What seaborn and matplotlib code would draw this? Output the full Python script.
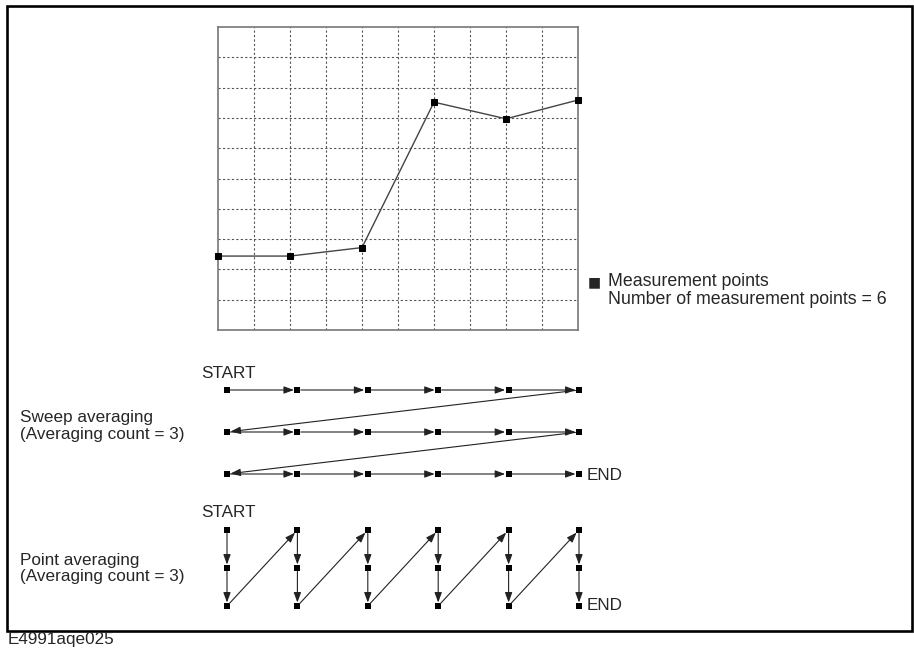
import matplotlib
matplotlib.use("Agg")
import matplotlib.pyplot as plt
from matplotlib.patches import Rectangle
import seaborn as sns
import pandas as pd

sns.set_theme(style="white")
plt.rcParams['font.family'] = ['Liberation Sans', 'DejaVu Sans']

# ---- data ----
point_index = [0, 2, 4, 6, 8, 10]
measured = [2.44, 2.44, 2.72, 7.52, 6.97, 7.59]
n_points = 6
avg_count = 3
figure_code = "E4991aqe025"

W, H = 914, 652
fig = plt.figure(figsize=(W / 100, H / 100), dpi=100)

def px_axes(x0, y0, x1, y1):
    return fig.add_axes([x0 / W, 1 - y1 / H, (x1 - x0) / W, (y1 - y0) / H])

# background axes in pixel coordinates
bg = px_axes(0, 0, W, H)
bg.set_xlim(0, W)
bg.set_ylim(H, 0)
bg.axis('off')
bg.add_patch(Rectangle((7, 6), 905, 625, fill=False, lw=1.9, ec='black'))

fs = 12.3
fl = 12.8
bg.text(594, 282, "■", fontsize=10, ha='center', va='center', family=['DejaVu Sans'])
bg.text(608, 286, "Measurement points", fontsize=fl, va='baseline')
bg.text(608, 304, "Number of measurement points = %d" % n_points, fontsize=fl, va='baseline')
bg.text(201, 378, "START", fontsize=fs, va='baseline')
bg.text(20, 422, "Sweep averaging", fontsize=fs, va='baseline')
bg.text(20, 439, "(Averaging count = %d)" % avg_count, fontsize=fs, va='baseline')
bg.text(587, 480, "END", fontsize=fs, va='baseline')
bg.text(201, 517, "START", fontsize=fs, va='baseline')
bg.text(20, 565, "Point averaging", fontsize=fs, va='baseline')
bg.text(20, 581, "(Averaging count = %d)" % avg_count, fontsize=fs, va='baseline')
bg.text(587, 610, "END", fontsize=fs, va='baseline')
bg.text(8, 644, figure_code, fontsize=fs, va='baseline')

# ---- grid trace ----
ax = px_axes(218, 27, 578, 330)
df = pd.DataFrame({"x": point_index, "y": measured})
sns.lineplot(data=df, x="x", y="y", ax=ax, color='#444444', lw=1.0,
             marker='s', markersize=5, markerfacecolor='black',
             markeredgecolor='black', clip_on=False, zorder=3)
ax.set_xlim(0, 10)
ax.set_ylim(0, 10)
ax.set_xticks(range(1, 10))
ax.set_yticks(range(1, 10))
ax.set_xticklabels([])
ax.set_yticklabels([])
ax.tick_params(length=0)
ax.set_xlabel("")
ax.set_ylabel("")
ax.grid(True, color='#555555', lw=0.8, linestyle=(0, (2, 2)))
for s in ax.spines.values():
    s.set_color('#777777')
    s.set_linewidth(1.2)
ax.set_facecolor('none')

arrow_kw = dict(arrowstyle='-|>,head_length=0.6,head_width=0.22', color='#222222',
                lw=0.8, shrinkA=2.5, shrinkB=2.5, mutation_scale=10)

def arrow(axx, p0, p1):
    axx.annotate("", xy=p1, xytext=p0, arrowprops=arrow_kw)

# ---- sweep averaging ----
cols = list(range(n_points))
rows = list(range(avg_count))
ax_s = px_axes(191.8, 369, 614.2, 495)
ax_s.set_xlim(-0.5, n_points - 0.5)
ax_s.set_ylim(avg_count - 0.5, -0.5)
ax_s.axis('off')
sweep_df = pd.DataFrame([(c, r) for r in rows for c in cols], columns=["col", "row"])
sns.scatterplot(data=sweep_df, x="col", y="row", ax=ax_s, marker='s', s=22,
                color='black', edgecolor='black', linewidth=0, zorder=3, legend=False)
seq = list(zip(sweep_df["col"], sweep_df["row"]))
for a, b in zip(seq[:-1], seq[1:]):
    arrow(ax_s, a, b)
ax_s.axis('off')

# ---- point averaging ----
ax_p = px_axes(191.8, 511, 614.2, 625)
ax_p.set_xlim(-0.5, n_points - 0.5)
ax_p.set_ylim(avg_count - 0.5, -0.5)
ax_p.axis('off')
point_df = pd.DataFrame([(c, r) for c in cols for r in rows], columns=["col", "row"])
sns.scatterplot(data=point_df, x="col", y="row", ax=ax_p, marker='s', s=24,
                color='black', edgecolor='black', linewidth=0, zorder=3, legend=False)
seq = list(zip(point_df["col"], point_df["row"]))
for a, b in zip(seq[:-1], seq[1:]):
    arrow(ax_p, a, b)
ax_p.axis('off')

fig.savefig("out.png", dpi=100, facecolor='white')
